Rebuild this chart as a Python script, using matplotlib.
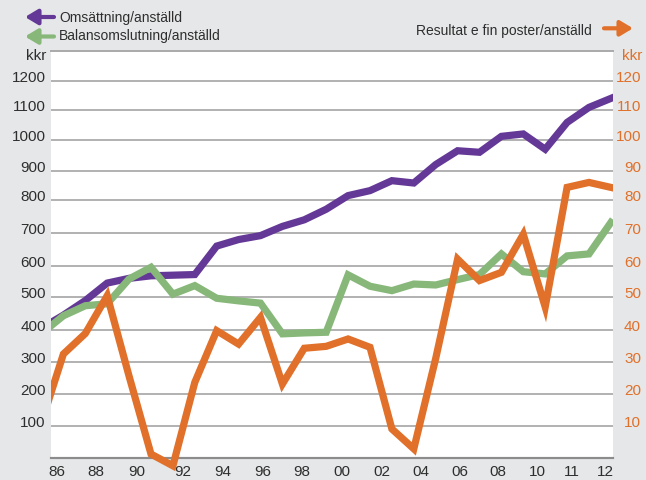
# coding = utf-8
import matplotlib
matplotlib.use('Agg')
import matplotlib.pyplot as plt
import numpy as np
from matplotlib.patches import Rectangle

plt.rcParams['font.family'] = ['Liberation Sans', 'DejaVu Sans']

# data (kkr per employee)
years = list(range(1986, 2013))
omsattning = [405, 445, 490, 545, 560, 568, 570, 572, 660, 680, 692, 720, 740, 772,
              815, 832, 866, 858, 920, 965, 960, 1012, 1020, 970, 1058, 1108, 1139]
balans = [388, 443, 474, 480, 558, 595, 510, 537, 497, 489, 482, 387, 390, 392,
          571, 535, 521, 542, 539, 556, 572, 636, 581, 574, 630, 636, 732]
resultat = [11, 32.4, 38.8, 50.5, 25.5, 1.3, -2.3, 23.6, 39.7, 35.5, 43.8, 23.1, 34.2, 34.8,
            37.1, 34.5, 9.0, 2.9, 31, 62, 55.3, 57.9, 69.6, 47, 84.3, 86, 84.3]

xtick_labels = ['86', '88', '90', '92', '94', '96', '98', '00', '02', '04', '06', '08', '10', '11', '12']
# the original puts its year labels a bit off the data points
xtick_pos = [1986.72, 1988.47, 1990.37, 1992.45, 1994.26, 1996.10, 1997.88, 1999.71,
             2001.56, 2003.33, 2005.11, 2006.86, 2008.64, 2010.21, 2011.73]
left_ticks = list(range(100, 1300, 100))
right_ticks = list(range(10, 130, 10))

purple = '#643896'
green = '#87b87a'
orange = '#e0702a'
textc = '#2e2e2e'

# gridlines in the original are not evenly spaced, so use a piecewise scale
grid_vals = [-100, 0, 100, 200, 300, 400, 500, 600, 700, 800, 900, 1000, 1100, 1200, 1300, 1400]
grid_px = [491.9, 459.3, 426.7, 395, 362.7, 330.7, 298.3, 266.7, 234, 201,
           171.7, 141, 110.7, 81.7, 51.7, 21.7]
grid_frac = (459.3 - np.array(grid_px)) / (459.3 - 51.7)


def fwd(v):
    return np.interp(v, grid_vals, grid_frac)


def inv(f):
    return np.interp(f, grid_frac, grid_vals)


def fwd2(v):
    return fwd(np.asarray(v) * 10)


def inv2(f):
    return inv(f) / 10


fig = plt.figure(figsize=(6.46, 4.81), dpi=100)
fig.patch.set_facecolor('#e6e7e8')
ax = fig.add_axes([50.7 / 646, 21.7 / 481, 562.6 / 646, 407.6 / 481])
ax.set_facecolor('white')

ax.set_yscale('function', functions=(fwd, inv))
ax.set_ylim(0, 1300)
ax.set_xlim(1986.42, 2012.11)

ax2 = ax.twinx()
ax2.set_yscale('function', functions=(fwd2, inv2))
ax2.set_ylim(0, 130)

clip = Rectangle((0, -0.1), 1, 1.2, transform=ax.transAxes, facecolor='none')

l1, = ax.plot(years, omsattning, color=purple, lw=5.2, solid_joinstyle='miter', zorder=3)
l2, = ax.plot(years, balans, color=green, lw=5.2, solid_joinstyle='miter', zorder=4)
l3, = ax2.plot(years, resultat, color=orange, lw=5.2, solid_joinstyle='miter', zorder=5)
for ln in (l1, l2, l3):
    ln.set_clip_path(clip)

ax.set_yticks(left_ticks)
ax.set_xticks(xtick_pos)
ax.set_xticklabels(xtick_labels)
ax.yaxis.grid(True, color='#ababab', lw=1.3)
ax.set_axisbelow(True)
ax.tick_params(axis='y', length=0, pad=3.5, labelsize=11, labelcolor=textc)
ax.tick_params(axis='x', length=0, pad=4, labelsize=11, labelcolor=textc)
for t in ax.get_yticklabels():
    t.set_verticalalignment('baseline')

ax2.set_yticks(right_ticks)
ax2.tick_params(axis='y', length=0, pad=20, labelsize=11, labelcolor=orange)
for t in ax2.get_yticklabels():
    t.set_horizontalalignment('right')
    t.set_verticalalignment('baseline')

for a in (ax, ax2):
    a.spines['left'].set_visible(False)
    a.spines['right'].set_visible(False)
    a.spines['top'].set_color('#ababab')
    a.spines['top'].set_linewidth(1.3)
    a.spines['bottom'].set_color('#8c8c8c')
    a.spines['bottom'].set_linewidth(1.5)

# legend-like labels with arrows
H = 481
fig.text(59.3 / 646, 1 - 21.7 / H, 'Omsättning/anställd', ha='left', va='baseline', fontsize=10, color=textc)
fig.text(59.3 / 646, 1 - 40 / H, 'Balansomslutning/anställd', ha='left', va='baseline', fontsize=10, color=textc)
fig.text(592 / 646, 1 - 35 / H, 'Resultat e fin poster/anställd', ha='right', va='baseline', fontsize=10, color=textc)
fig.text(46.7 / 646, 1 - 60 / H, 'kkr', ha='right', va='baseline', fontsize=11, color=textc)
fig.text(642 / 646, 1 - 59.5 / H, 'kkr', ha='right', va='baseline', fontsize=11, color=orange)

arrow = dict(arrowstyle='-|>,head_length=0.75,head_width=0.45', lw=3, shrinkA=0, shrinkB=0, mutation_scale=10)
ax.annotate('', xy=(25, H - 18), xytext=(54, H - 18), xycoords='figure pixels',
            arrowprops=dict(arrow, color=purple))
ax.annotate('', xy=(25, H - 37.5), xytext=(54, H - 37.5), xycoords='figure pixels',
            arrowprops=dict(arrow, color=green))
ax.annotate('', xy=(633, H - 29.3), xytext=(604, H - 29.3), xycoords='figure pixels',
            arrowprops=dict(arrow, color=orange))

plt.savefig('out.png', dpi=100, facecolor=fig.get_facecolor())
